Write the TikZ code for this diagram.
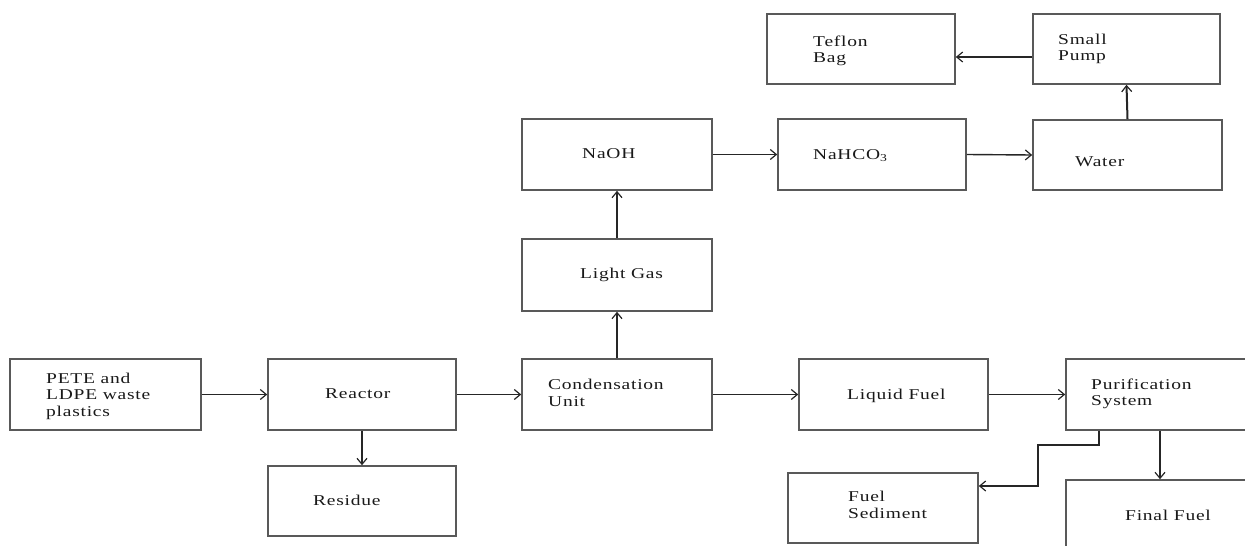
\documentclass[tikz,border=0pt]{standalone}
\usepackage{fontspec}
\setmainfont{Liberation Serif}[FakeStretch=1.3, LetterSpace=5]
\usetikzlibrary{arrows.meta}
\tikzset{
  box/.style={draw=black!65, line width=1.6pt, rectangle, inner sep=0pt},
  txt/.style={anchor=west, align=left, inner sep=0pt, font=\fontsize{15}{16.5}\selectfont, text=black!90},
  arr/.style={draw=black!85, line width=1.4pt, -{Straight Barb[length=6pt,width=10pt,line width=1.2pt]}},
  arrb/.style={arr, line width=2pt},
}
\begin{document}
\begin{tikzpicture}[x=1pt,y=-1pt]
\useasboundingbox (0,0) rectangle (1245,546);
\clip (0,0) rectangle (1245,546);
% boxes
\node[box, minimum width=191pt, minimum height=71pt] (pete) at (105.5,394.5) {};
\node[box, minimum width=188pt, minimum height=71pt] (reactor) at (362,394.5) {};
\node[box, minimum width=188pt, minimum height=70pt] (residue) at (362,501) {};
\node[box, minimum width=190pt, minimum height=71pt] (cond) at (617,394.5) {};
\node[box, minimum width=189pt, minimum height=71pt] (liquid) at (893.5,394.5) {};
\node[box, minimum width=194pt, minimum height=71pt] (purif) at (1163,394.5) {};
\node[box, minimum width=190pt, minimum height=70pt] (sediment) at (883,508) {};
\node[box, minimum width=194pt, minimum height=80pt] (final) at (1163,520) {};
\node[box, minimum width=190pt, minimum height=71pt] (naoh) at (617,154.5) {};
\node[box, minimum width=190pt, minimum height=72pt] (light) at (617,275) {};
\node[box, minimum width=188pt, minimum height=71pt] (nahco) at (872,154.5) {};
\node[box, minimum width=189pt, minimum height=70pt] (water) at (1127.5,155) {};
\node[box, minimum width=188pt, minimum height=70pt] (teflon) at (861,49) {};
\node[box, minimum width=187pt, minimum height=70pt] (pump) at (1126.5,49) {};
% texts
\node[txt] (t-pete) at (46,396) {PETE and\\LDPE waste\\plastics};
\node[txt] (t-reactor) at (325,394) {Reactor};
\node[txt] (t-residue) at (313,500) {Residue};
\node[txt] (t-cond) at (548,393) {Condensation\\Unit};
\node[txt] (t-liquid) at (847,396) {Liquid Fuel};
\node[txt] (t-purif) at (1091,394) {Purification\\System};
\node[txt] (t-sediment) at (848,505) {Fuel\\Sediment};
\node[txt] (t-final) at (1125,515) {Final Fuel};
\node[txt] (t-naoh) at (582,154) {NaOH};
\node[txt] (t-light) at (580,275) {Light Gas};
\node[txt] (t-nahco) at (813,156) {NaHCO\textsubscript{3}};
\node[txt] (t-water) at (1075,162) {Water};
\node[txt] (t-teflon) at (813,51) {Teflon\\Bag};
\node[txt] (t-pump) at (1058,49) {Small\\Pump};
% connectors
\draw[arr] (pete.east) -- (reactor.west);
\draw[arr] (reactor.east) -- (cond.west);
\draw[arr] (cond.east) -- (liquid.west);
\draw[arr] (liquid.east) -- (purif.west);
\draw[arrb] (reactor.south) -- (residue.north);
\draw[arrb] (cond.north) -- (light.south);
\draw[arrb] (light.north) -- (naoh.south);
\draw[arr] (naoh.east) -- (nahco.west);
\draw[arr] (nahco.east) -- (water.west);
\draw[arrb] (water.north) -- (pump.south);
\draw[arr] ([yshift=-8pt]pump.west) -- ([yshift=-8pt]teflon.east);
\draw[arrb] ([xshift=-3pt]purif.south) -- ([xshift=-3pt]final.north);
\draw[arr, line width=1.8pt] ([xshift=-64pt]purif.south) -- ++(0,14) -- ++(-61,0) |- ([yshift=22pt]sediment.east);
\end{tikzpicture}
\end{document}
